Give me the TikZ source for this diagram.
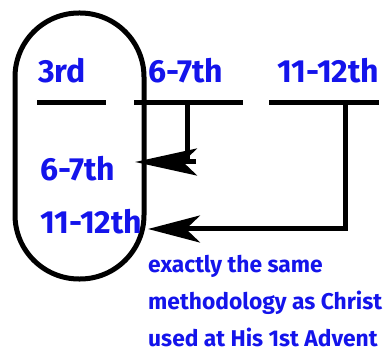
\documentclass[tikz,border=0pt]{standalone}
\usepackage{fontspec}
\setmainfont{Fira Sans}[Numbers=Proportional]
\usetikzlibrary{arrows.meta}
\definecolor{inkblue}{RGB}{20,20,235}
\tikzset{
  lbl/.style={text=inkblue, font=\bfseries\fontsize{32}{35}\selectfont, inner sep=0pt, anchor=base west},
  note/.style={text=inkblue, font=\bfseries\fontsize{22.8}{25}\selectfont, inner sep=0pt, anchor=base west},
  thick line/.style={line width=5pt, black},
  bigtip/.style={-{Stealth[length=#1, width=27pt, inset=14pt]}},
}
\begin{document}
\begin{tikzpicture}[x=1pt,y=-1pt]
\useasboundingbox (0,0) rectangle (390,352);
% oval
\node[draw, line width=5pt, rounded corners=64pt, minimum width=129pt, minimum height=266pt, inner sep=0pt] (oval) at (79.5,146) {};
% headings
\node[lbl] (h1) at (38,83) {3rd};
\node[lbl] (h2) at (148,83) {6-7th};
\node[lbl] (h3) at (277,83) {11-12th};
% underlines
\coordinate (l1a) at (37,103); \coordinate (l1b) at (106,103);
\coordinate (l2a) at (134,103); \coordinate (l2b) at (243,103);
\coordinate (l3a) at (269,103); \coordinate (l3b) at (379,103);
\draw[thick line] (l1a) -- (l1b);
\draw[thick line] (l2a) -- (l2b);
\draw[thick line] (l3a) -- (l3b);
% inner labels
\node[lbl] (i1) at (40,181) {6-7th};
\node[lbl] (i2) at (40,234) {11-12th};
% connectors
\coordinate (v2) at (187,103);
\coordinate (c2) at (187,162);
\coordinate (b2) at (196,162);
\coordinate (t2) at (135,162);
\draw[thick line] (v2) -- (c2);
\draw[thick line, bigtip=62pt] (b2) -- (t2);
\coordinate (v3) at (345,103);
\coordinate (c3) at (345,229);
\coordinate (t3) at (148,229);
\draw[thick line, bigtip=52pt] (v3) -- (c3) -- (t3);
% note
\node[note] (n1) at (148,272) {exactly the same};
\node[note] (n2) at (148,309) {methodology as Christ};
\node[note] (n3) at (148,346) {used at His 1st Advent};
\end{tikzpicture}
\end{document}
